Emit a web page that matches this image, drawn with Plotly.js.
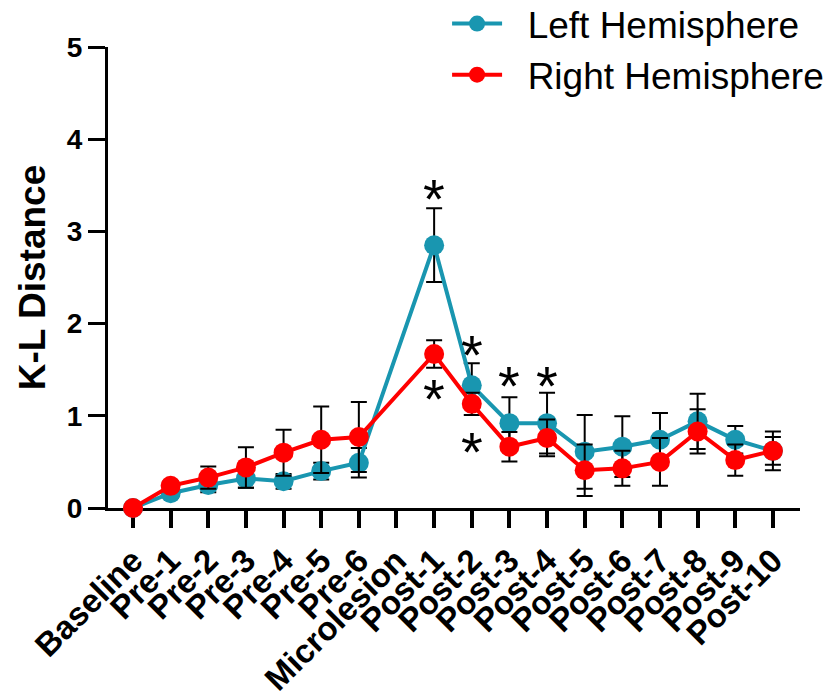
<!DOCTYPE html>
<html>
<head>
<meta charset="utf-8">
<script src="https://cdn.plot.ly/plotly-3.0.1.min.js"></script>
<style>html,body{margin:0;padding:0;background:#fff;}#chart{width:831px;height:698px;}</style>
</head>
<body>
<div id="chart"></div>
<script>
// ---- data ----
var categories = ['Baseline','Pre-1','Pre-2','Pre-3','Pre-4','Pre-5','Pre-6','Microlesion',
  'Post-1','Post-2','Post-3','Post-4','Post-5','Post-6','Post-7','Post-8','Post-9','Post-10'];
var leftMean  = [0, 0.16, 0.25, 0.32, 0.29, 0.40, 0.49, null, 2.85, 1.33, 0.92, 0.92, 0.61, 0.665, 0.74, 0.94, 0.74, 0.62];
var leftErr   = [0, 0.05, 0.08, 0.10, 0.08, 0.09, 0.16, null, 0.40, 0.24, 0.28, 0.33, 0.40, 0.33, 0.29, 0.30, 0.15, 0.15];
var rightMean = [0, 0.24, 0.33, 0.44, 0.60, 0.74, 0.77, null, 1.67, 1.13, 0.665, 0.76, 0.41, 0.43, 0.50, 0.83, 0.52, 0.62];
var rightErr  = [0, 0.05, 0.12, 0.22, 0.25, 0.36, 0.38, null, 0.15, 0.12, 0.16, 0.20, 0.28, 0.19, 0.26, 0.24, 0.17, 0.21];
var seriesNames = ['Left Hemisphere', 'Right Hemisphere'];
// significance asterisks
var starCats = ['Post-1', 'Post-1', 'Post-2', 'Post-2', 'Post-3', 'Post-4'];
var starY    = [3.47, 1.30, 1.77, 0.72, 1.44, 1.44];

var FONT = 'Liberation Sans, Arial, sans-serif';
var TEAL = '#1996b0';
var RED = '#ff0000';
var PAD = '\u00a0\u00a0';

function mkTrace(name, y, err, color) {
  return {
    type: 'scatter', mode: 'lines+markers', name: PAD + name,
    x: categories, y: y, connectgaps: true, cliponaxis: false,
    line: {color: color, width: 4},
    marker: {color: color, size: 20},
    error_y: {type: 'data', array: err, visible: true, color: '#000', thickness: 2, width: 8}
  };
}

var data = [
  mkTrace(seriesNames[0], leftMean, leftErr, TEAL),
  mkTrace(seriesNames[1], rightMean, rightErr, RED)
];

var annotations = starCats.map(function (c, i) {
  return {x: c, y: starY[i], xref: 'x', yref: 'y', text: '*', showarrow: false,
    font: {family: FONT, size: 56, color: '#000'}, yanchor: 'middle', yshift: -10};
});

var layout = {
  width: 831, height: 698, autosize: false,
  margin: {l: 108, r: 31, t: 47, b: 190, autoexpand: false},
  paper_bgcolor: '#fff', plot_bgcolor: '#fff',
  showlegend: true,
  legend: {x: 0.49, y: 1.117, xanchor: 'left', yanchor: 'top', bgcolor: 'rgba(0,0,0,0)',
    font: {family: FONT, size: 37, color: '#000'}, itemwidth: 50, tracegroupgap: 0},
  xaxis: {
    type: 'category', categoryorder: 'array', categoryarray: categories,
    tickmode: 'array', tickvals: categories, ticktext: categories,
    range: [-0.664, 17.72], showgrid: false, zeroline: false,
    showline: true, linecolor: '#000', linewidth: 3, layer: 'below traces',
    ticks: 'outside', ticklen: 17, tickwidth: 4, tickcolor: '#000',
    tickangle: -45, tickfont: {family: FONT, size: 33, color: '#000', weight: 'bold'}
  },
  yaxis: {
    range: [0, 5], dtick: 1, tick0: 0, showgrid: false, zeroline: false,
    showline: true, linecolor: '#000', linewidth: 3, layer: 'below traces',
    ticks: 'outside', ticklen: 17, tickwidth: 3, tickcolor: '#000',
    tickfont: {family: FONT, size: 28, color: '#000', weight: 'bold'},
    title: {text: 'K-L Distance', font: {family: FONT, size: 37, color: '#000', weight: 'bold'}, standoff: 10}
  },
  annotations: annotations,
  hovermode: false
};

Plotly.newPlot('chart', data, layout, {displayModeBar: false, staticPlot: true});
</script>
</body>
</html>
